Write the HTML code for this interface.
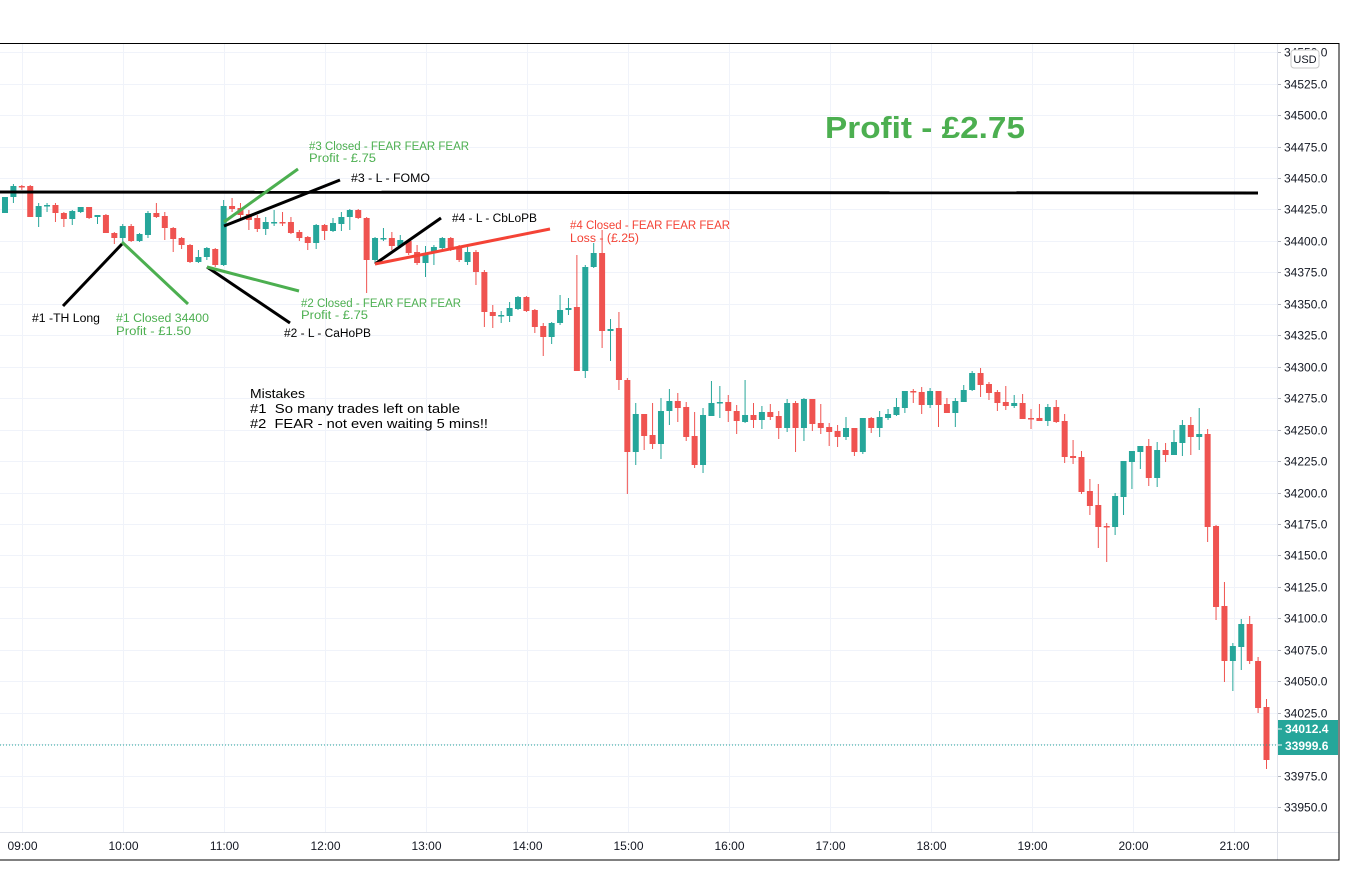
<!DOCTYPE html>
<html><head><meta charset="utf-8"><style>
html,body{margin:0;padding:0;background:#fff;}
svg{display:block;font-family:"Liberation Sans",sans-serif;}
</style></head><body>
<svg id="s" width="1345" height="896" viewBox="0 0 1345 896" xmlns="http://www.w3.org/2000/svg">
<rect width="1345" height="896" fill="#fff"/>
<g id="grid"></g>
<g id="candles"></g>
<line x1="0" y1="745" x2="1277" y2="745" stroke="#26a69a" stroke-width="1" stroke-dasharray="1,2"/>
<line x1="0" y1="192" x2="1258" y2="193" stroke="#000" stroke-width="3"/>
<g stroke-width="3" fill="none">
<line x1="63" y1="306" x2="122" y2="244" stroke="#000"/>
<line x1="122" y1="242" x2="188" y2="304" stroke="#4caf50"/>
<line x1="207" y1="267" x2="290" y2="323" stroke="#000"/>
<line x1="207" y1="267" x2="299" y2="291" stroke="#4caf50"/>
<line x1="224" y1="222" x2="298" y2="169" stroke="#4caf50"/>
<line x1="224" y1="226" x2="340" y2="180" stroke="#000"/>
<line x1="375" y1="264" x2="441" y2="218" stroke="#000"/>
<line x1="375" y1="264" x2="550" y2="229" stroke="#f44336"/>
</g>
<g font-size="11.5" lengthAdjust="spacingAndGlyphs">
<text x="32" y="322" fill="#000" textLength="68" lengthAdjust="spacingAndGlyphs">#1 -TH Long</text>
<text x="116" y="322" fill="#4caf50" textLength="93" lengthAdjust="spacingAndGlyphs">#1 Closed 34400</text>
<text x="116" y="335" fill="#4caf50" textLength="75" lengthAdjust="spacingAndGlyphs">Profit - £1.50</text>
<text x="284" y="337" fill="#000" textLength="87" lengthAdjust="spacingAndGlyphs">#2 - L - CaHoPB</text>
<text x="301" y="307" fill="#4caf50" textLength="160" lengthAdjust="spacingAndGlyphs">#2 Closed - FEAR FEAR FEAR</text>
<text x="301" y="319" fill="#4caf50" textLength="67" lengthAdjust="spacingAndGlyphs">Profit - £.75</text>
<text x="309" y="150" fill="#4caf50" textLength="160" lengthAdjust="spacingAndGlyphs">#3 Closed - FEAR FEAR FEAR</text>
<text x="309" y="162" fill="#4caf50" textLength="67" lengthAdjust="spacingAndGlyphs">Profit - £.75</text>
<text x="351" y="182" fill="#000" textLength="79" lengthAdjust="spacingAndGlyphs">#3 - L - FOMO</text>
<text x="452" y="222" fill="#000" textLength="85" lengthAdjust="spacingAndGlyphs">#4 - L - CbLoPB</text>
<text x="570" y="229" fill="#f44336" textLength="160" lengthAdjust="spacingAndGlyphs">#4 Closed - FEAR FEAR FEAR</text>
<text x="570" y="242" fill="#f44336" textLength="69" lengthAdjust="spacingAndGlyphs">Loss - (£.25)</text>
<text x="250" y="398" fill="#000" font-size="12.5" textLength="55" lengthAdjust="spacingAndGlyphs">Mistakes</text>
<text x="250" y="413" fill="#000" font-size="12.5" textLength="210" lengthAdjust="spacingAndGlyphs" xml:space="preserve">#1  So many trades left on table</text>
<text x="250" y="428" fill="#000" font-size="12.5" textLength="238" lengthAdjust="spacingAndGlyphs" xml:space="preserve">#2  FEAR - not even waiting 5 mins!!</text>
</g>
<text x="825" y="138" font-size="31" font-weight="bold" fill="#4caf50" textLength="200" lengthAdjust="spacingAndGlyphs">Profit - £2.75</text>
<rect x="1278" y="44" width="60" height="788" fill="#fff"/>
<g id="axis"></g>
<rect x="1277" y="720" width="61" height="35" fill="#26a69a"/>
<line x1="1277" y1="729" x2="1282" y2="729" stroke="#fff"/>
<line x1="1277" y1="745" x2="1282" y2="745" stroke="#fff"/>
<text x="1285" y="733" font-size="12" font-weight="bold" fill="#fff">34012.4</text>
<text x="1285" y="750" font-size="12" font-weight="bold" fill="#fff">33999.6</text>
<rect x="1291" y="50" width="28" height="18" rx="3" fill="#fff" stroke="#c8c8c8"/>
<text x="1305" y="63" font-size="11" text-anchor="middle" fill="#131722">USD</text>
<line x1="1277.5" y1="43" x2="1277.5" y2="860" stroke="#e0e3eb"/>
<line x1="0" y1="832.5" x2="1339" y2="832.5" stroke="#e0e3eb"/>
<rect x="-2" y="43.5" width="1341" height="816.5" fill="none" stroke="#000" stroke-width="1"/>
</svg>
<script>
(function(){
var NS="http://www.w3.org/2000/svg";
function el(p,t,a){var e=document.createElementNS(NS,t);for(var k in a)e.setAttribute(k,a[k]);p.appendChild(e);return e;}
var grid=document.getElementById('grid'),axis=document.getElementById('axis'),cg=document.getElementById('candles');
function yp(p){return 178+(34450-p)/25*31.45;}
for(var p=33950;p<=34550;p+=25){var y=Math.round(yp(p))+0.5;
 el(grid,'line',{x1:0,y1:y,x2:1277,y2:y,stroke:'#f0f3fa'});
 el(axis,'line',{x1:1277,y1:y,x2:1281,y2:y,stroke:'#b2b5be'});
 if(p!==34000){var t=el(axis,'text',{x:1284,y:y+4,'font-size':12,fill:'#131722'});t.textContent=p.toFixed(1);}
}
var hrs=['09:00','10:00','11:00','12:00','13:00','14:00','15:00','16:00','17:00','18:00','19:00','20:00','21:00'];
for(var i=0;i<hrs.length;i++){var x=Math.round(21.8+i*101.04)+0.5;
 el(grid,'line',{x1:x,y1:43,x2:x,y2:832,stroke:'#f0f3fa'});
 var t=el(grid,'text',{x:x,y:850,'font-size':12,'text-anchor':'middle',fill:'#131722'});t.textContent=hrs[i];}
var d=[
[213,197,197,213],[197,186,184,203],[186,187,185,190],[186,217,185,217],[217,206,203,227],[206,205,203,212],[205,213,203,222],[213,219,212,227],[219,211,210,225],[212,207,207,213],
[207,218,207,219],[217,215,215,224],[215,233,214,233],[233,238,232,244],[238,226,224,244],[226,241,224,242],[241,234,233,242],[235,213,211,238],[213,217,203,218],[216,228,212,240],
[228,239,227,252],[238,245,237,249],[245,262,244,263],[262,257,250,263],[257,248,247,260],[249,265,248,267],[265,206,200,266],[206,209,198,212],[208,215,203,220],[214,220,210,230],
[218,229,215,232],[229,222,217,235],[223,222,210,226],[222,223,212,226],[222,233,217,234],[232,238,230,241],[237,243,236,250],[243,225,224,249],[225,231,224,240],[231,223,218,232],
[224,217,212,231],[217,210,209,230],[210,218,209,219],[218,260,217,293],[260,238,237,262],[239,238,228,241],[238,246,232,250],[246,240,235,248],[241,253,239,255],[252,263,245,265],
[263,253,246,277],[252,247,245,265],[248,238,237,250],[238,250,237,251],[248,260,245,262],[262,252,246,265],[252,272,250,285],[272,312,270,327],[312,316,305,328],[316,315,311,323],
[316,308,302,322],[309,297,296,310],[297,311,296,312],[310,327,309,333],[326,337,323,356],[337,323,322,344],[323,310,295,325],[310,308,298,315],[307,371,255,371],[371,267,265,378],
[267,253,243,268],[253,331,230,348],[331,329,319,361],[328,380,312,390],[380,452,378,494],[452,414,403,465],
[414,436,414,450],[435,444,403,449],[444,411,398,459],[411,401,389,425],[401,408,393,422],[407,437,402,441],[436,465,412,468],[465,415,408,473],[416,403,381,416],[403,402,386,418],
[402,411,395,422],[411,421,405,434],[422,415,380,423],[415,420,403,428],[420,412,406,429],[412,417,404,420],[416,428,411,439],[428,403,399,432],[403,428,401,452],[428,399,398,441],
[399,424,399,431],[423,428,404,434],[427,432,423,446],[431,437,425,447],[437,428,417,440],[428,452,428,456],[452,418,418,454],[418,428,417,433],[428,417,411,437],[418,414,409,420],
[415,407,398,416],[408,391,391,413],[391,392,389,403],[392,405,387,414],[405,391,388,408],[391,405,391,427],[404,413,398,413],[413,401,398,427],[402,390,385,402],[390,373,371,391],
[373,385,368,397],[384,393,382,400],[392,403,390,411],[402,406,386,410],[406,403,395,408],[403,419,394,419],[418,419,409,429],[418,421,404,421],[421,407,404,426],[407,422,400,423],
[421,457,414,463],[456,458,440,464],[457,492,451,494],[491,506,479,515],[505,527,484,548],[526,527,523,562],[527,496,493,535],[497,461,461,515],[462,451,451,489],[452,446,446,469],
[446,478,439,486],[478,450,442,487],[450,455,443,462],[455,442,430,455],[443,425,420,456],[425,437,417,455],[437,434,408,450],[434,527,429,542],[526,607,525,620],[606,661,582,682],
[661,646,643,691],[647,624,619,670],[624,661,616,664],[661,708,657,713],[707,760,699,769]];
for(var i=0;i<d.length;i++){var c=d[i],x=5+i*8.41,o=c[0],cl=c[1];
 var col=cl>o?'#ef5350':'#26a69a';
 var bt=Math.min(o,cl),bh=Math.max(1.5,Math.abs(cl-o));
 el(cg,'line',{x1:x,y1:c[2],x2:x,y2:c[3],stroke:col,'stroke-width':1});
 el(cg,'rect',{x:x-3,y:bt,width:6,height:bh,fill:col});
}
})();
</script>
</body></html>
